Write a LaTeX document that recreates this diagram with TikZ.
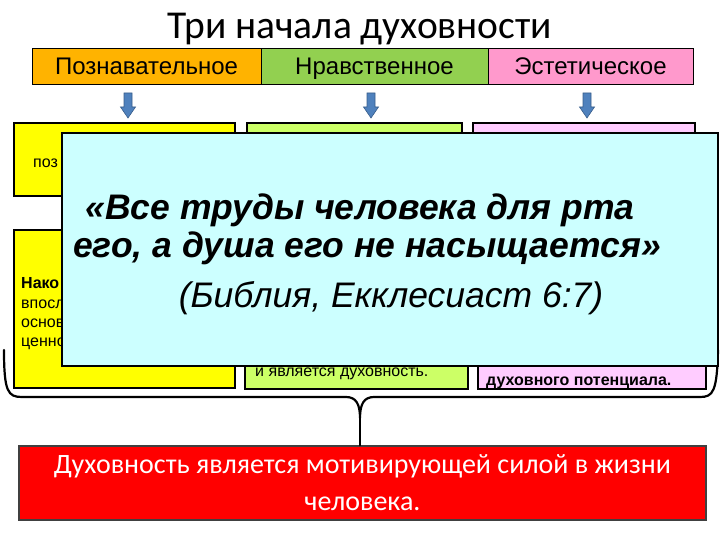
\documentclass[tikz,border=0pt]{standalone}
\usepackage{fontspec}
\setmainfont{Liberation Sans}
\newfontfamily\calfont{Carlito}
\definecolor{hOrange}{HTML}{FFB300}
\definecolor{hGreen}{HTML}{92D050}
\definecolor{hPink}{HTML}{FF99CC}
\definecolor{boxYellow}{HTML}{FFFF00}
\definecolor{boxGreen}{HTML}{CCFF66}
\definecolor{boxPink}{HTML}{FFCCFF}
\definecolor{quoteCyan}{HTML}{CCFFFF}
\definecolor{arrowBlue}{HTML}{4F81BD}
\definecolor{arrowEdge}{HTML}{385D8A}
\tikzset{
  hdr/.style={draw=black, line width=0.8pt, minimum height=36pt, inner sep=0pt, text height=17pt, text depth=0pt, font=\fontsize{24}{26}\selectfont},
  boxbase/.style={draw=black, line width=1.6pt, inner sep=0pt},
  ybox/.style={boxbase, fill=boxYellow},
  gbox/.style={boxbase, fill=boxGreen},
  pbox/.style={boxbase, fill=boxPink},
  smalltxt/.style={inner sep=0pt, anchor=base west, font=\fontsize{16}{18}\selectfont},
  boldtxt/.style={smalltxt, font=\fontsize{16}{18}\selectfont\bfseries},
  downarr/.pic={\filldraw[fill=arrowBlue, draw=arrowEdge, line width=0.6pt]
     (-4,0) -- (4,0) -- (4,14) -- (7.5,14) -- (0,25) -- (-7.5,14) -- (-4,14) -- cycle;},
  quoteline/.style={inner sep=0pt, anchor=base, font=\fontsize{35.5}{38}\selectfont\bfseries\itshape},
  sourceline/.style={inner sep=0pt, anchor=base, font=\fontsize{35.5}{38}\selectfont\itshape},
  brace/.style={draw=black, line width=2.2pt, line cap=round, line join=round},
}
\begin{document}
\begin{tikzpicture}[x=1pt,y=-1pt]
\useasboundingbox (0,0) rectangle (720,540);
% title
\node[font=\calfont\fontsize{39.5}{42}\selectfont, inner sep=0pt, anchor=base] (title) at (360,39) {Три начала духовности};
% header bar
\node[hdr, fill=hOrange, minimum width=229pt] (h1) at (146.5,66) {Познавательное};
\node[hdr, fill=hGreen, minimum width=227pt] (h2) at (374.5,66) {Нравственное};
\node[hdr, fill=hPink, minimum width=205pt] (h3) at (590.5,66) {Эстетическое};
% arrows
\pic at (128,93) {downarr};
\pic at (371,93) {downarr};
\pic at (587,93) {downarr};
% first row boxes
\node[ybox, minimum width=221pt, minimum height=73pt] (b1) at (124.5,159.5) {};
\node[gbox, minimum width=215pt, minimum height=73pt] (b2) at (354.5,159.5) {};
\node[pbox, minimum width=222pt, minimum height=73pt] (b3) at (584,159.5) {};
\node[smalltxt] (t1) at (33,168) {поз};
% second row boxes
\node[ybox, minimum width=221pt, minimum height=158pt] (b4) at (124.5,309) {};
\node[gbox, minimum width=223pt, minimum height=158pt] (b5) at (356.5,310) {};
\node[pbox, minimum width=228pt, minimum height=158pt] (b6) at (592,310) {};
\node[boldtxt] (t2) at (21,288) {Нако};
\node[smalltxt] (t3) at (21,308) {впосл};
\node[smalltxt] (t4) at (21,327) {основ};
\node[smalltxt] (t5) at (21,346) {ценно};
\node[smalltxt] (t6) at (255,376) {и является духовность.};
\node[boldtxt] (t7) at (486,385) {духовного потенциала.};
% brace
\coordinate (bl) at (4,350);
\coordinate (tip) at (360,418);
\coordinate (br) at (718,350);
\draw[brace] (bl) .. controls (4,392) and (8,397) .. (22,397) -- (346,397)
  .. controls (356,397) and (360,404) .. (tip)
  .. controls (360,404) and (364,397) .. (374,397) -- (700,397)
  .. controls (713,397) and (717,392) .. (br);
% quote box
\node[draw=black, line width=1.6pt, fill=quoteCyan, minimum width=656pt, minimum height=233pt, inner sep=0pt] (q) at (390,249.5) {};
\node[quoteline] (q1) at (360,220) {«Все труды человека для рта};
\node[quoteline] (q2) at (367,257) {его, а душа его не насыщается»};
\node[sourceline] (q3) at (391,307) {(Библия, Екклесиаст 6:7)};
% conclusion
\node[draw=black!75, line width=1.2pt, fill=red, text=white, minimum width=687pt, minimum height=74pt, align=center, font=\calfont\fontsize{28}{37}\selectfont] (r) at (362.5,483) {Духовность является мотивирующей силой в жизни\\человека.};
\draw[brace] (tip) -- (tip |- r.north);
\end{tikzpicture}
\end{document}
